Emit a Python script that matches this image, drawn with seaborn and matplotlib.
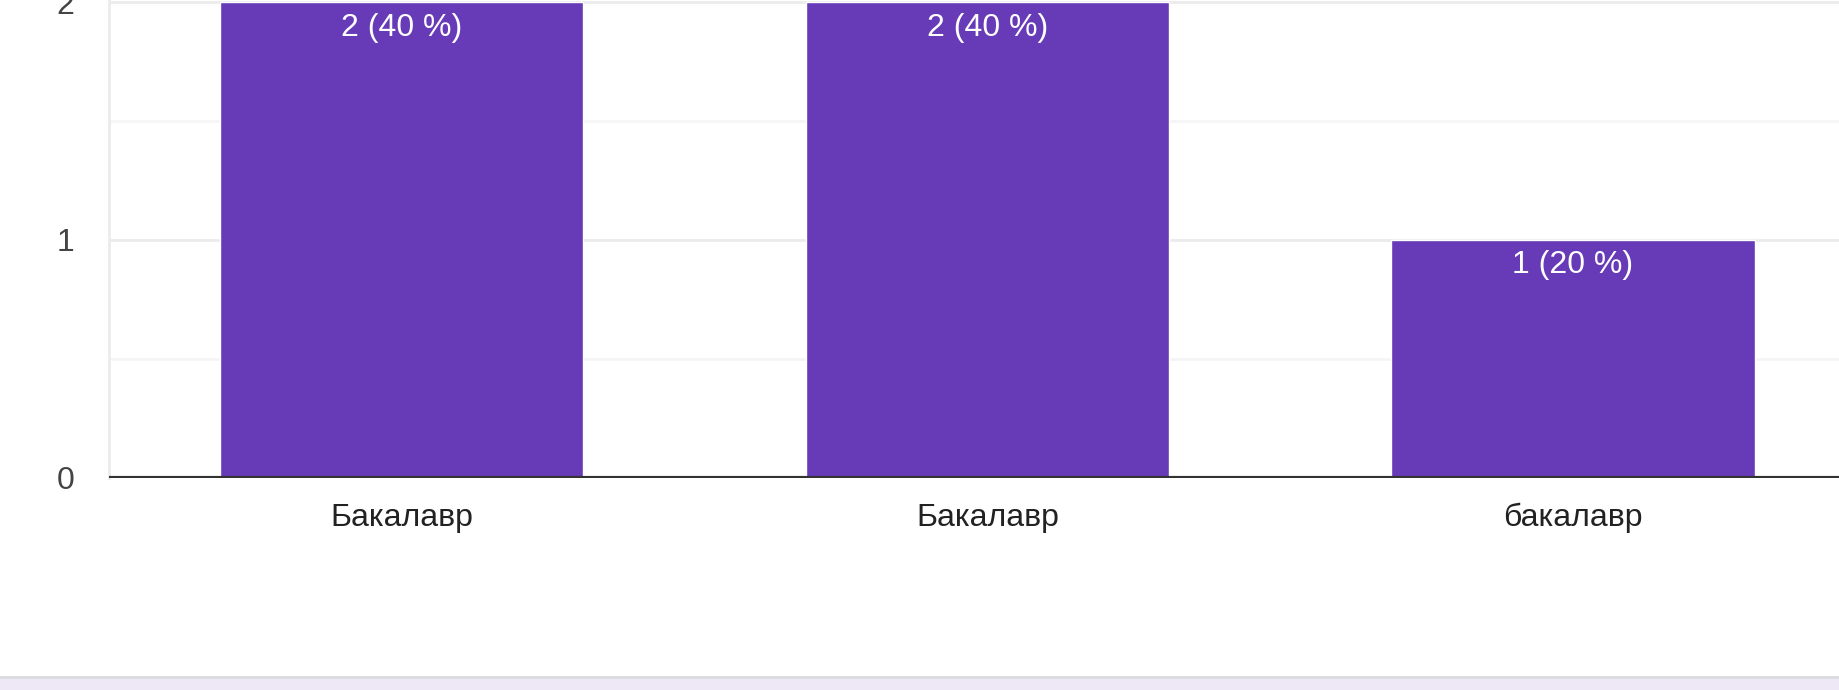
import matplotlib
matplotlib.use("Agg")
import matplotlib.pyplot as plt
import seaborn as sns
import pandas as pd
from matplotlib.patches import Rectangle

labels = ["Бакалавр", "Бакалавр", "бакалавр"]
counts = [2, 2, 1]
y_ticks = [0, 1, 2]

total = sum(counts)
df = pd.DataFrame({"pos": [str(i) for i in range(len(labels))], "count": counts})

sns.set_theme(style="white")
plt.rcParams["font.family"] = ["Liberation Sans", "DejaVu Sans"]

fig = plt.figure(figsize=(18.4, 6.9), dpi=100)
ax = fig.add_axes([109 / 1840, (690 - 477.6) / 690, 1 - 109 / 1840, 477.6 / 690])

sns.barplot(data=df, x="pos", y="count", color="#673ab7", saturation=1,
            width=0.62, ax=ax, zorder=3)

ax.set_xlim(-0.5, 2.456)
ax.set_ylim(0, 2.01)

# gridlines
for v in [0.5, 1.5]:
    ax.axhline(v, color="#f5f5f5", lw=2, zorder=1)
for v in [1, 2]:
    ax.axhline(v, color="#ebebeb", lw=2, zorder=1)
ax.axhline(0, color="#333333", lw=3, zorder=5)

ax.set_yticks(y_ticks)
ax.set_yticklabels([str(t) for t in y_ticks], color="#444444", fontsize=23)
ax.set_xticks(range(len(labels)))
ax.set_xticklabels(labels, color="#222222", fontsize=23)
ax.tick_params(axis="y", length=0, pad=25)
ax.tick_params(axis="x", length=0, pad=18)
ax.set_xlabel("")
ax.set_ylabel("")

for side in ["top", "right", "bottom"]:
    ax.spines[side].set_visible(False)
ax.spines["left"].set_color("#ebebeb")
ax.spines["left"].set_linewidth(2)

for i, c in enumerate(counts):
    pct = round(c / total * 100)
    ax.annotate(f"{c} ({pct} %)", xy=(i, c), xytext=(0, -24),
                textcoords="offset points", ha="center", va="baseline",
                color="white", fontsize=23, zorder=6)

# bottom band
fig.patches.append(Rectangle((0, 0), 1, 13 / 690, transform=fig.transFigure,
                             facecolor="#ede7f6", edgecolor="none", zorder=0))
fig.patches.append(Rectangle((0, 11 / 690), 1, 3 / 690, transform=fig.transFigure,
                             facecolor="#dadce0", edgecolor="none", zorder=0))

fig.savefig("out.png", dpi=100, facecolor="white")
